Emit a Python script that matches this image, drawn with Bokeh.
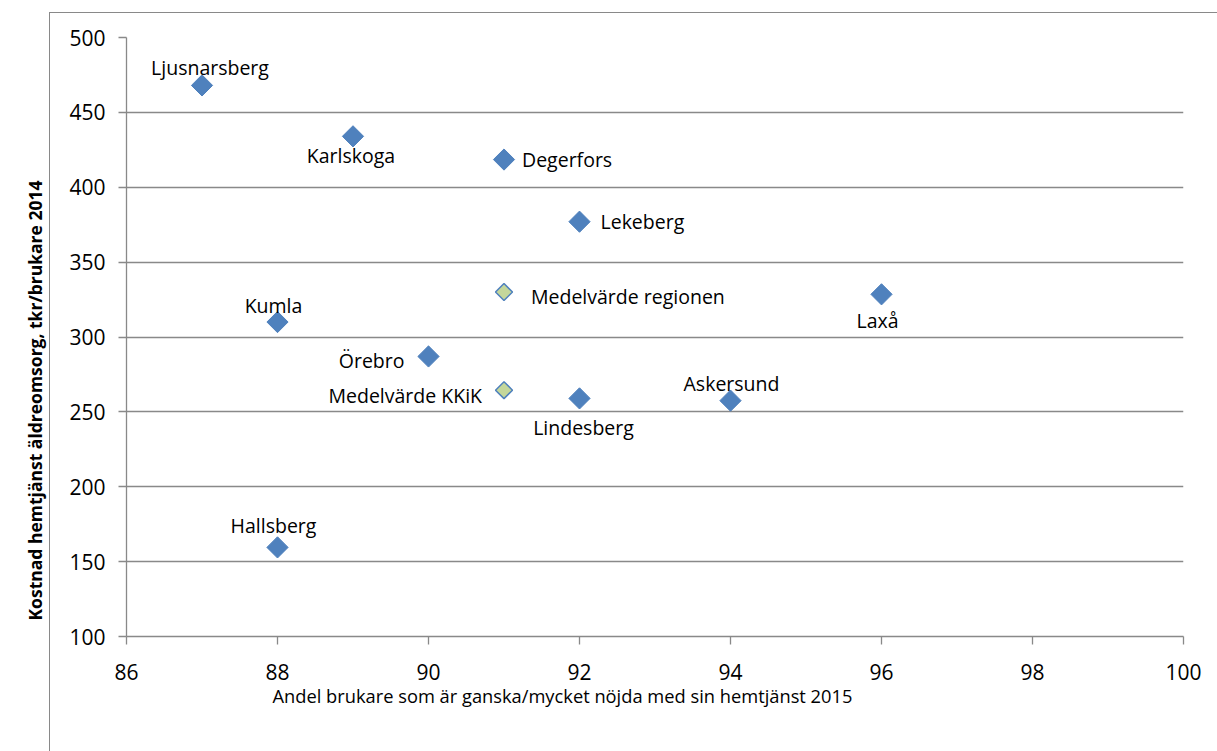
import numpy as np
from bokeh.plotting import figure
from bokeh.models import ColumnDataSource, Label, Title, FixedTicker, Range1d, InlineStyleSheet
from bokeh.embed import file_html
from bokeh.resources import INLINE

# ---------------- data ----------------
names = ["Ljusnarsberg", "Karlskoga", "Degerfors", "Lekeberg", "Laxå",
         "Kumla", "Örebro", "Lindesberg", "Askersund", "Hallsberg"]
satisfaction = [87, 89, 91, 92, 96, 88, 90, 92, 94, 88]
cost = [468, 434, 418.5, 377, 328.5, 310, 287, 259, 257.5, 159.5]

avg_names = ["Medelvärde regionen", "Medelvärde KKiK"]
avg_satisfaction = [91, 91]
avg_cost = [330, 264.5]

x_ticks = [86, 88, 90, 92, 94, 96, 98, 100]
y_ticks = [100, 150, 200, 250, 300, 350, 400, 450, 500]

x_title = "Andel brukare som är ganska/mycket nöjda med sin hemtjänst 2015"
y_title = "Kostnad hemtjänst äldreomsorg, tkr/brukare 2014"

# ---------------- label placement (style) ----------------
# name -> (dx px, dy px (down positive), align)
label_style = {
    "Ljusnarsberg": (8, -18, "center"),
    "Karlskoga": (-2, 19, "center"),
    "Degerfors": (18, 0, "left"),
    "Lekeberg": (21, 0, "left"),
    "Laxå": (-4, 26, "center"),
    "Kumla": (-4, -17, "center"),
    "Örebro": (-24, 4, "right"),
    "Lindesberg": (4, 29, "center"),
    "Askersund": (1, -17, "center"),
    "Hallsberg": (-4, -22, "center"),
    "Medelvärde regionen": (27, 4, "left"),
    "Medelvärde KKiK": (-22, 5, "right"),
}

FONT = "Open Sans"
GRAY = "#898989"
BLUE = "#4F81BD"

border_css = InlineStyleSheet(css="""
:host { position: relative; }
:host::after {
  content: ""; position: absolute; left: 49px; top: 12px; right: 0; bottom: 0;
  border-left: 1.3px solid #898989; border-top: 1.3px solid #898989;
  pointer-events: none;
}
""")

p = figure(width=1217, height=751, output_backend="svg", toolbar_location=None,
           x_range=Range1d(86, 100), y_range=Range1d(100, 500),
           min_border_left=126, min_border_right=34, min_border_top=37,
           min_border_bottom=115, stylesheets=[border_css])
p.outline_line_color = None
p.background_fill_color = "white"
p.border_fill_color = "white"

p.xgrid.visible = False
p.ygrid.grid_line_color = GRAY
p.ygrid.grid_line_width = 1.3
p.ygrid.ticker = FixedTicker(ticks=y_ticks)

p.xaxis.ticker = FixedTicker(ticks=x_ticks)
p.yaxis.ticker = FixedTicker(ticks=y_ticks)
for ax in (p.xaxis, p.yaxis):
    ax.axis_line_color = GRAY
    ax.axis_line_width = 1.3
    ax.major_tick_line_color = GRAY
    ax.major_tick_line_width = 1.3
    ax.major_tick_in = 0
    ax.major_tick_out = 8
    ax.minor_tick_line_color = None
    ax.major_label_text_font = FONT
    ax.major_label_text_font_size = "21px"
    ax.major_label_text_color = "black"
p.yaxis.major_label_standoff = 13
p.xaxis.major_label_standoff = 19

# markers
src = ColumnDataSource(dict(x=satisfaction, y=cost, name=names))
p.scatter("x", "y", source=src, marker="square", angle=np.pi / 4, size=15,
          fill_color=BLUE, line_color=BLUE, line_width=1)
asrc = ColumnDataSource(dict(x=avg_satisfaction, y=avg_cost, name=avg_names))
p.scatter("x", "y", source=asrc, marker="square", angle=np.pi / 4, size=12,
          fill_color="#C4D79B", line_color=BLUE, line_width=1.5)

# data labels
all_names = names + avg_names
all_x = satisfaction + avg_satisfaction
all_y = cost + avg_cost
for n, xv, yv in zip(all_names, all_x, all_y):
    dx, dy, al = label_style[n]
    p.add_layout(Label(x=xv, y=yv, text=n, x_offset=dx, y_offset=-dy,
                       text_align=al, text_baseline="middle",
                       text_font=FONT, text_font_size="19.5px",
                       text_color="black"))

# axis titles (placed as in the reference, off-centre)
p.add_layout(Title(text=x_title, align="left", offset=146,
                   text_font=FONT, text_font_size="18.3px",
                   text_font_style="normal", text_color="black",
                   vertical_align="top", standoff=0), "below")
p.add_layout(Title(text=y_title, align="left", offset=16,
                   text_font=FONT, text_font_size="17.5px",
                   text_font_style="bold", text_color="black",
                   standoff=40), "left")

open("out.html", "w").write(file_html(p, INLINE))
